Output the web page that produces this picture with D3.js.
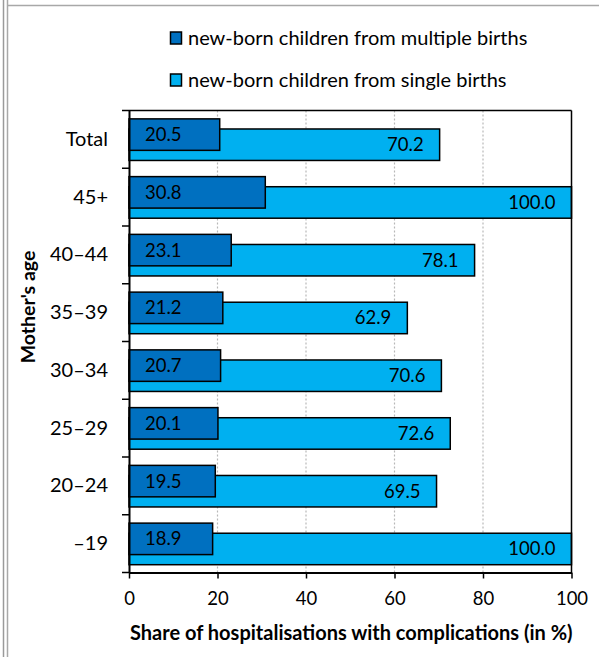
<!DOCTYPE html>
<html>
<head>
<meta charset="utf-8">
<script src="https://cdn.jsdelivr.net/npm/d3@7"></script>
<style>
html,body{margin:0;padding:0;background:#fff;}
svg{display:block;}
text{font-family:Lato,"Open Sans",sans-serif;fill:#000;}
</style>
</head>
<body>
<svg id="chart" width="601" height="657"></svg>
<script>
const categories = ["Total", "45+", "40–44", "35–39", "30–34", "25–29", "20–24", "–19"];
const multipleBirths = [20.5, 30.8, 23.1, 21.2, 20.7, 20.1, 19.5, 18.9];
const singleBirths = [70.2, 100.0, 78.1, 62.9, 70.6, 72.6, 69.5, 100.0];
const seriesNames = ["new-born children from multiple births", "new-born children from single births"];
const xTicks = [0, 20, 40, 60, 80, 100];
const xTitle = "Share of hospitalisations with complications (in %)";
const yTitle = "Mother's age";

const colDark = "#0070C0", colLight = "#00B0F0";
const svg = d3.select("#chart");

// frame
svg.append("line").attr("x1",3.5).attr("x2",3.5).attr("y1",0).attr("y2",657).attr("stroke","#9a9a9a").attr("stroke-width",1.5);
svg.append("line").attr("x1",7.5).attr("x2",7.5).attr("y1",0).attr("y2",657).attr("stroke","#a8a8a8").attr("stroke-width",1.5);
svg.append("line").attr("x1",7).attr("x2",599).attr("y1",5.5).attr("y2",5.5).attr("stroke","#a8a8a8").attr("stroke-width",1.5);

const L = 129, R = 571.5, T = 110.5, B = 572.5;
const x = d3.scaleLinear().domain([0,100]).range([L,R]);
const y = d3.scaleBand().domain(categories).range([T,B]).paddingInner(0).paddingOuter(0);
const bw = y.bandwidth();

// gridlines
svg.append("g").selectAll("line").data(xTicks.filter(d=>d>0&&d<100)).join("line")
  .attr("x1",d=>x(d)).attr("x2",d=>x(d)).attr("y1",T).attr("y2",B)
  .attr("stroke","#b8b8b8").attr("stroke-width",1.2).attr("stroke-dasharray","2,2");

const rows = categories.map((c,i)=>({c, m:multipleBirths[i], s:singleBirths[i]}));

const g = svg.append("g");
g.selectAll("rect.s").data(rows).join("rect").attr("class","s")
  .attr("x",x(0)).attr("y",d=>y(d.c)+bw*0.32).attr("width",d=>x(d.s)-x(0)).attr("height",bw*0.545)
  .attr("fill",colLight).attr("stroke","#000").attr("stroke-width",1.5);
g.selectAll("rect.m").data(rows).join("rect").attr("class","m")
  .attr("x",x(0)).attr("y",d=>y(d.c)+bw*0.145).attr("width",d=>x(d.m)-x(0)).attr("height",bw*0.545)
  .attr("fill",colDark).attr("stroke","#000").attr("stroke-width",1.5);

// labels
g.selectAll("text.m").data(rows).join("text").attr("class","m")
  .attr("x",x(0)+16).attr("y",d=>y(d.c)+bw*(0.145+0.2725)).attr("dy","0.35em")
  .attr("font-size",18.5).text(d=>d.m.toFixed(1));
g.selectAll("text.s").data(rows).join("text").attr("class","s")
  .attr("x",d=>x(d.s)-16).attr("y",d=>y(d.c)+bw*(0.32+0.2725)).attr("dy","0.35em")
  .attr("text-anchor","end").attr("font-size",18.5).text(d=>d.s.toFixed(1));

// plot border top & right
svg.append("line").attr("x1",L).attr("x2",R).attr("y1",T).attr("y2",T).attr("stroke","#000").attr("stroke-width",1.5);
svg.append("line").attr("x1",R).attr("x2",R).attr("y1",T).attr("y2",B).attr("stroke","#000").attr("stroke-width",1.5);

// x axis
const xa = svg.append("g").attr("transform",`translate(0,${B})`)
  .call(d3.axisBottom(x).tickValues(xTicks).tickFormat(d3.format("d")).tickSize(6).tickSizeOuter(0));
xa.select(".domain").attr("stroke","#000").attr("stroke-width",2);
xa.selectAll(".tick line").attr("stroke","#000").attr("stroke-width",1.5);
xa.selectAll(".tick text").attr("font-size",18.5).attr("font-family","Lato").attr("dy","1.25em");

// y axis
const ya = svg.append("g").attr("transform",`translate(${L},0)`)
  .call(d3.axisLeft(y).tickSize(0).tickPadding(21));
ya.select(".domain").attr("stroke","#000").attr("stroke-width",2);
ya.selectAll(".tick text").attr("font-size",20).attr("font-family","Lato");
svg.append("g").selectAll("line").data(d3.range(categories.length+1)).join("line")
  .attr("x1",L-7).attr("x2",L).attr("y1",i=>T+i*bw).attr("y2",i=>T+i*bw)
  .attr("stroke","#000").attr("stroke-width",1.5);

// axis titles
svg.append("text").attr("x",(L+R)/2+1).attr("y",640).attr("text-anchor","middle")
  .attr("font-size",20).attr("font-weight","bold").text(xTitle);
svg.append("text").attr("transform",`translate(35,307) rotate(-90)`).attr("text-anchor","middle")
  .attr("font-size",19.5).attr("font-weight","bold").text(yTitle);

// legend
const lg = svg.append("g");
seriesNames.forEach((n,i)=>{
  const yy = 38 + i*42;
  lg.append("rect").attr("x",170.5).attr("y",yy-6).attr("width",11).attr("height",12)
    .attr("fill",i===0?colDark:colLight).attr("stroke","#000").attr("stroke-width",1.5);
  lg.append("text").attr("x",188).attr("y",yy).attr("dy","0.35em").attr("font-size",20).text(n);
});
</script>
</body>
</html>
